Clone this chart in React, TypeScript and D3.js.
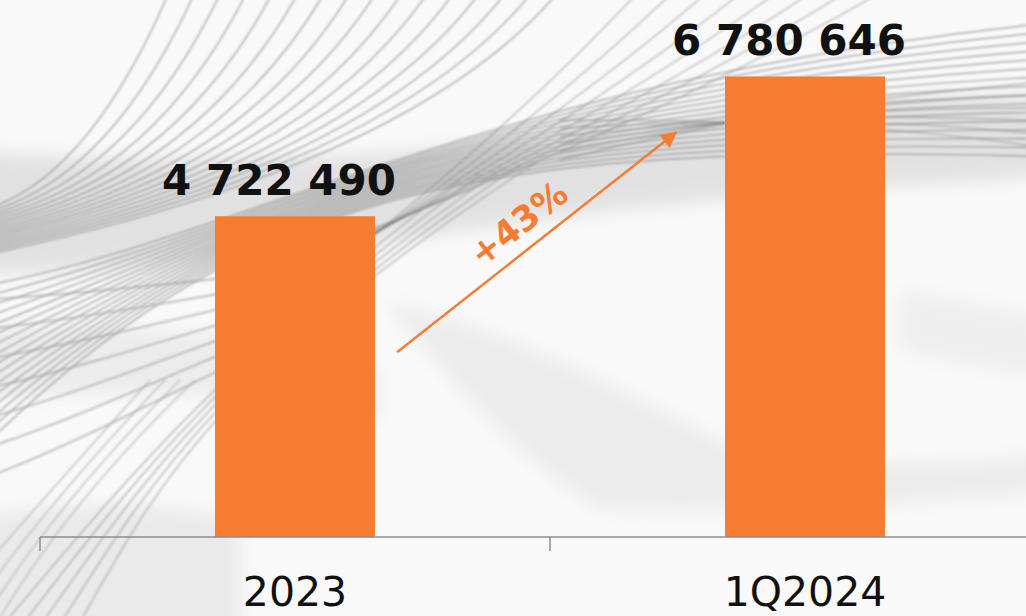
import React, { useEffect, useRef } from 'react';
import * as d3 from 'd3';

// chart data
const categories = ['2023', '1Q2024'];
const values = [4722490, 6780646];

const W = 1026;
const H = 616;
const BAR_COLOR = '#F57C31';

const fmt = (v: number) => d3.format(',')(v).replace(/,/g, ' ');

export default function App() {
  const svgRef = useRef<SVGSVGElement>(null);

  useEffect(() => {
    if (!svgRef.current) return;
    const svg = d3.select(svgRef.current);
    svg.selectAll('*').remove();

    const baseY = 537;
    const x = d3.scaleBand<string>().domain(categories).range([40, 1060]).padding(0);
    const y = d3.scaleLinear().domain([0, 7450000]).range([baseY, 31]);
    const barW = 160;

    const defs = svg.append('defs');
    const mkFilter = (id: string, sd: number) =>
      defs.append('filter').attr('id', id)
        .attr('filterUnits', 'userSpaceOnUse')
        .attr('x', -100).attr('y', -100).attr('width', W + 200).attr('height', H + 200)
        .append('feGaussianBlur').attr('stdDeviation', sd);
    mkFilter('soft', 0.8);
    mkFilter('softer', 9);

    defs.append('marker')
      .attr('id', 'arrow')
      .attr('viewBox', '0 0 10 10')
      .attr('refX', 9)
      .attr('refY', 5)
      .attr('markerWidth', 8)
      .attr('markerHeight', 6.5)
      .attr('markerUnits', 'strokeWidth')
      .attr('orient', 'auto')
      .append('path')
      .attr('d', 'M0,0 L10,5 L0,10 Z')
      .attr('fill', BAR_COLOR);

    // background
    svg.append('rect').attr('width', W).attr('height', H).attr('fill', '#f9f9f9');
    const bg = svg.append('g');

    // soft grey shading
    const waves = [
      { d: 'M-40,150 C200,170 420,160 700,115 C850,95 950,95 1080,95 L1080,175 C900,185 760,195 600,212 C450,232 250,265 -40,275 Z', o: 0.55 },
      { d: 'M380,300 C520,330 640,400 740,450 C860,470 960,465 1080,450 L1080,490 C900,505 780,515 600,510 C500,450 430,350 380,300 Z', o: 0.3 },
      { d: 'M-40,330 C120,320 250,330 380,370 L380,420 C250,390 120,390 -40,400 Z', o: 0.3 },
      { d: 'M-40,520 C80,500 150,500 240,520 L240,660 L-40,660 Z', o: 0.35 },
      { d: 'M900,290 C960,300 1000,310 1080,320 L1080,380 C980,370 940,360 900,350 Z', o: 0.25 },
    ];
    bg.selectAll('path.wave').data(waves).join('path')
      .attr('class', 'wave')
      .attr('d', d => d.d)
      .attr('fill', '#cfcfcf')
      .attr('opacity', d => d.o)
      .attr('filter', 'url(#softer)');

    const lineGroup = bg.append('g').attr('filter', 'url(#soft)').attr('fill', 'none');
    const cubic = (p: number[][]) => `M${p[0]} C${p[1]} ${p[2]} ${p[3]}`;
    const quad = (p: number[][]) => `M${p[0]} Q${p[1]} ${p[2]}`;

    // long sweeping lines into the right side
    for (let i = 0; i < 16; i++) {
      lineGroup.append('path')
        .attr('d', cubic([[-40, 290 + i * 12], [240, 245 - i * 4], [470, 80 + i * 4], [1060, 22 + i * 9]]))
        .attr('stroke', '#808080').attr('stroke-opacity', 0.55).attr('stroke-width', 1.7);
    }
    // steep lines, top left
    for (let i = 0; i < 16; i++) {
      lineGroup.append('path')
        .attr('d', quad([[-40, 215 + i * 3], [80 + i * 22, 200 - i * 2], [170 + i * 26, -10]]))
        .attr('stroke', '#7a7a7a').attr('stroke-opacity', 0.55).attr('stroke-width', 1.6);
    }
    // crossing lines in the upper middle (start behind the first bar)
    for (let i = 0; i < 8; i++) {
      lineGroup.append('path')
        .attr('d', quad([[340, 262 - i * 3], [520 + i * 20, 120], [640 + i * 35, -10]]))
        .attr('stroke', '#7a7a7a').attr('stroke-opacity', 0.45).attr('stroke-width', 1.5);
    }
    // lower left near-horizontal lines (run behind the first bar)
    for (let i = 0; i < 7; i++) {
      lineGroup.append('path')
        .attr('d', cubic([[-20, 300 + i * 30], [100, 292 + i * 24], [220, 280 + i * 14], [350, 262 + i * 8]]))
        .attr('stroke', '#999').attr('stroke-opacity', 0.55).attr('stroke-width', 2.2);
    }
    // lower left steep lines
    for (let i = 0; i < 5; i++) {
      lineGroup.append('path')
        .attr('d', cubic([[-10 + i * 20, 640], [110 + i * 10, 500], [200, 380], [460 + i * 20, 180 - i * 5]]))
        .attr('stroke', '#999').attr('stroke-opacity', 0.5).attr('stroke-width', 2);
    }
    // bottom left corner lines
    for (let i = 0; i < 4; i++) {
      lineGroup.append('path')
        .attr('d', quad([[-10, 560 + i * 25], [60, 480 + i * 10], [150 + i * 15, 380]]))
        .attr('stroke', '#aaa').attr('stroke-opacity', 0.5).attr('stroke-width', 2);
    }
    // right side flat lines
    for (let i = 0; i < 6; i++) {
      lineGroup.append('path')
        .attr('d', cubic([[560, 160 - i * 8], [760, 110 + i * 2], [900, 95 + i * 6], [1060, 80 + i * 14]]))
        .attr('stroke', '#808080').attr('stroke-opacity', 0.5).attr('stroke-width', 1.5);
    }

    // bars
    svg.append('g').selectAll('rect').data(values).join('rect')
      .attr('x', (_, i) => x(categories[i])! + x.bandwidth() / 2 - barW / 2)
      .attr('y', d => y(d))
      .attr('width', barW)
      .attr('height', d => baseY - y(d))
      .attr('fill', BAR_COLOR);

    // value labels
    svg.append('g').selectAll('text').data(values).join('text')
      .attr('x', (_, i) => x(categories[i])! + x.bandwidth() / 2 - 16)
      .attr('y', d => y(d) - 21)
      .attr('text-anchor', 'middle')
      .attr('font-family', 'DejaVu Sans')
      .attr('font-weight', 'bold')
      .attr('font-size', 42)
      .attr('fill', '#111')
      .text(d => fmt(d));

    // axis
    const ax = svg.append('g').attr('stroke', '#8c8c8c').attr('stroke-width', 1.5);
    ax.append('line').attr('x1', 40).attr('x2', W).attr('y1', baseY).attr('y2', baseY);
    const bounds = [...categories.map(c => x(c)!), x.range()[1]];
    ax.selectAll('line.tick').data(bounds).join('line')
      .attr('class', 'tick')
      .attr('x1', d => d).attr('x2', d => d)
      .attr('y1', baseY).attr('y2', baseY + 14);

    svg.append('g').selectAll('text').data(categories).join('text')
      .attr('x', d => x(d)! + x.bandwidth() / 2)
      .attr('y', 606)
      .attr('text-anchor', 'middle')
      .attr('font-family', 'DejaVu Sans')
      .attr('font-size', 41)
      .attr('fill', '#111')
      .text(d => d);

    // growth arrow
    const x0 = x(categories[0])! + x.bandwidth() / 2 + barW / 2 + 22;
    const y0 = y(values[0]) + 136;
    const x1 = x(categories[1])! + x.bandwidth() / 2 - barW / 2 - 49;
    const y1 = y(values[1]) + 56;
    svg.append('line')
      .attr('x1', x0).attr('y1', y0).attr('x2', x1).attr('y2', y1)
      .attr('stroke', BAR_COLOR)
      .attr('stroke-width', 2.5)
      .attr('marker-end', 'url(#arrow)');

    const growth = Math.floor((values[1] / values[0] - 1) * 100);
    const angle = Math.atan2(y1 - y0, x1 - x0) * 180 / Math.PI;
    svg.append('text')
      .attr('transform', `translate(${(x0 + x1) / 2 - 3},${(y0 + y1) / 2}) rotate(${angle})`)
      .attr('y', -12)
      .attr('text-anchor', 'middle')
      .attr('font-family', 'DejaVu Sans')
      .attr('font-weight', 'bold')
      .attr('font-size', 35)
      .attr('fill', BAR_COLOR)
      .text(`+${growth}%`);
  }, []);

  return (
    <svg
      ref={svgRef}
      width={W}
      height={H}
      style={{ position: 'absolute', left: 0, top: 0, display: 'block' }}
    />
  );
}
